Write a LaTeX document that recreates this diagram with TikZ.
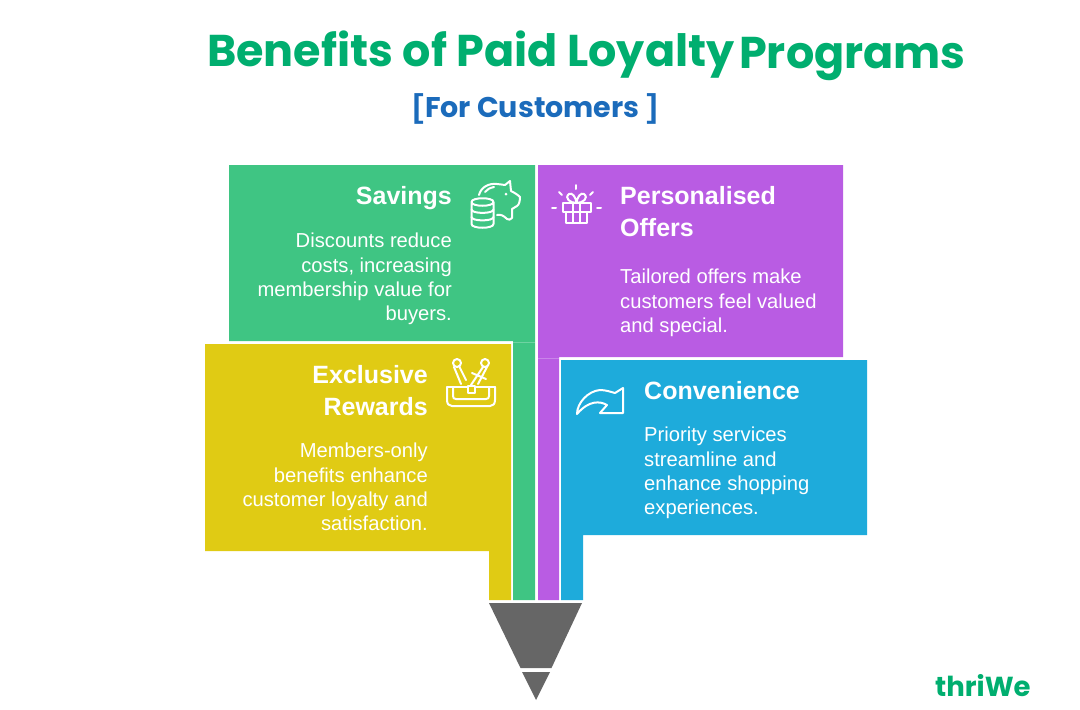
\documentclass[tikz,border=0pt]{standalone}
\usepackage{fontspec}
\setmainfont{Liberation Sans}
\newfontfamily\titlefont{Poppins}
\definecolor{savegreen}{HTML}{3FC583}
\definecolor{offerpurple}{HTML}{B95CE3}
\definecolor{rewardyellow}{HTML}{E0CB14}
\definecolor{convblue}{HTML}{1EABDB}
\definecolor{tipgray}{HTML}{666666}
\definecolor{titlegreen}{HTML}{00AE6F}
\definecolor{subblue}{HTML}{1B6BBB}
\tikzset{
    heading/.style = {inner sep=0pt, text=white, font=\fontsize{25}{32.5}\selectfont\bfseries},
    bodytext/.style = {inner sep=0pt, text=white, font=\fontsize{20.2}{24.3}\selectfont},
    icon/.style = {draw=white, line width=2pt, line cap=round, line join=round},
    bracket/.style = {anchor=base, inner sep=0pt, text=subblue, font=\fontsize{33}{36}\selectfont\bfseries}
}
\begin{document}
\begin{tikzpicture}[line cap=butt,line join=miter,x=1pt,y=-1pt]
\useasboundingbox (0,0) rectangle (1080,710);
\fill [savegreen] (229,165) -- (535,165) -- (535,600) -- (513,600) -- (513,341) -- (229,341) -- cycle;
\fill [offerpurple] (538,165) -- (843,165) -- (843,357) -- (559,357) -- (559,600) -- (538,600) -- cycle;
\fill [rewardyellow] (205,344) -- (511,344) -- (511,600) -- (489,600) -- (489,551) -- (205,551) -- cycle;
\fill [convblue] (561,360) -- (867,360) -- (867,535) -- (583,535) -- (583,600) -- (561,600) -- cycle;
\fill [tipgray] (489,603) -- (582,603) -- (551.5,668) -- (520.5,668) -- cycle;
\fill [tipgray] (522,672) -- (550,672) -- (536,700) -- cycle;
\draw [white, opacity=0.25] (513,342) -- (535,342);
\draw [white, opacity=0.25] (538,358) -- (559,358);
\node [anchor=base west, inner sep=0pt, text=titlegreen, font=\fontsize{44.5}{50}\titlefont\bfseries] (titlemain) at (207,66) {Benefits of Paid Loyalty};
\node [anchor=base west, inner sep=0pt, text=titlegreen, font=\fontsize{44.5}{50}\titlefont\bfseries] (titleend) at (739,68) {Programs};
\node [anchor=base west, inner sep=0pt, text=subblue, font=\fontsize{28.5}{30}\titlefont\bfseries] (subtitle) at (425,117) {For Customers};
\node [bracket] (leftbracket) at (418,117) {[};
\node [bracket] (rightbracket) at (652,117) {]};
\node [heading, anchor=north east, align=right] (savingstitle) at (452,186) {Savings};
\node [bodytext, anchor=north east, align=right] (savingstext) at (452,233) {Discounts reduce\\costs, increasing\\membership value for\\buyers.};
\node [heading, anchor=north west, align=left] (offerstitle) at (620,186) {Personalised\\Offers};
\node [bodytext, anchor=north west, align=left] (offerstext) at (620,269) {Tailored offers make\\customers feel valued\\and special.};
\node [heading, anchor=north east, align=right] (rewardstitle) at (428,365) {Exclusive\\Rewards};
\node [bodytext, anchor=north east, align=right] (rewardstext) at (428,443) {Members-only\\benefits enhance\\customer loyalty and\\satisfaction.};
\node [heading, anchor=north west, align=left] (conveniencetitle) at (644,381) {Convenience};
\node [bodytext, anchor=north west, align=left] (conveniencetext) at (644,427) {Priority services\\streamline and\\enhance shopping\\experiences.};
\node [anchor=base west, inner sep=0pt, text=titlegreen, font=\fontsize{27.5}{30}\titlefont\bfseries] (logo) at (935,696) {thriWe};
\draw[icon] (471.5,202) .. controls (471.5,197) and (493.5,197) .. (493.5,202) .. controls (493.5,207) and (471.5,207) .. (471.5,202) -- (471.5,224) .. controls (471.5,229) and (493.5,229) .. (493.5,224) -- (493.5,202);
\draw[icon] (471.5,209.5) .. controls (471.5,214) and (493.5,214) .. (493.5,209.5);
\draw[icon] (471.5,217) .. controls (471.5,221.5) and (493.5,221.5) .. (493.5,217);
\draw[icon] (479,195) .. controls (481,187) and (489,183) .. (497,184) .. controls (500,184) and (503,185) .. (505,185) -- (510,181) -- (511,191) .. controls (515,193) and (518,195) .. (520,197) .. controls (520,201) and (519,205) .. (517,206) -- (512,209) -- (512,218) .. controls (511,220) and (508,220) .. (507,219) .. controls (504,216) and (501,214) .. (497,215);
\draw[icon] (485,192) .. controls (487,189) and (490,188) .. (494,187);
\fill[white] (506,194) circle (1.5);
\draw[icon] (563,203) rectangle (591,212);
\draw[icon] (566,212) -- (566,223) -- (587,223) -- (587,212);
\draw[icon] (573,203) -- (573,223);
\draw[icon] (580,203) -- (580,223);
\draw[icon] (576.5,203) .. controls (570,203) and (564,198) .. (569,194) .. controls (572,192) and (576,197) .. (576.5,203) .. controls (577,197) and (581,192) .. (584,194) .. controls (589,198) and (583,203) .. (576.5,203);
\draw[icon] (576,185) -- (576,189);
\draw[icon] (559,192) -- (562,195);
\draw[icon] (593,192) -- (590,195);
\draw[icon] (552,208) -- (556,208);
\draw[icon] (597,208) -- (601,208);
\draw[icon] (457,363) circle (4);
\draw[icon] (485,363) circle (4);
\draw[icon] (454,367) -- (461,384);
\draw[icon] (459,366) -- (466,380);
\draw[icon] (483,367) -- (471,385);
\draw[icon] (487,367) -- (478,384);
\draw[icon] (472,373) -- (486,379);
\draw[icon] (447,387) -- (468,387) (475,387) -- (495,387);
\draw[icon] (447,387) -- (447,400) .. controls (447,404) and (449,406) .. (452,406) -- (490,406) .. controls (493,406) and (495,404) .. (495,400) -- (495,387);
\draw[icon] (453,388) -- (453,396) .. controls (453,398) and (454,399) .. (456,399) -- (486,399) .. controls (488,399) and (489,398) .. (489,396) -- (489,388);
\draw[icon] (468,386) rectangle (475,393);
\draw[icon] (577,414) .. controls (577,403) and (588,391) .. (600,390) .. controls (606,390) and (611,392) .. (615,393) -- (623,388) -- (623,413) -- (600,413) -- (607,405) .. controls (600,401) and (589,400) .. (577,414) -- cycle;
\end{tikzpicture}
\end{document}
